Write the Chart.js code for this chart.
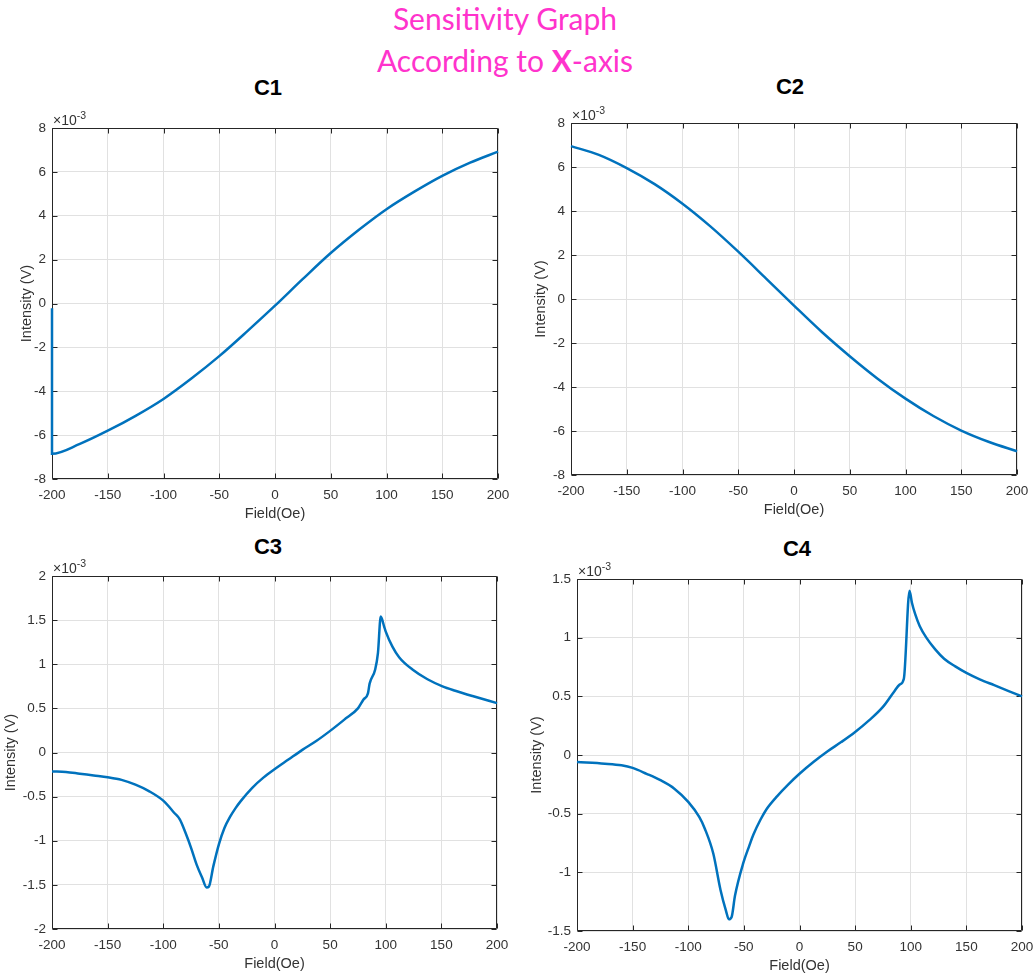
<!DOCTYPE html>
<html>
<head>
<meta charset="utf-8">
<title>Sensitivity Graph</title>
<script src="https://cdn.jsdelivr.net/npm/chart.js@4.4.0/dist/chart.umd.min.js"></script>
<style>
  html, body { margin: 0; padding: 0; background: #fff; }
  body { width: 1033px; height: 976px; position: relative; overflow: hidden; font-family: 'Liberation Sans', Arial, sans-serif; }
  canvas { position: absolute; }
  .suptitle { position: absolute; left: 255px; top: -3px; width: 500px; text-align: center;
    font-family: Lato, 'Open Sans', sans-serif; font-size: 30px; line-height: 42px; color: #ff33cc; }
  .subtitle { position: absolute; width: 100px; margin-left: -50px; text-align: center;
    font-weight: bold; font-size: 22px; line-height: 22px; color: #000; }
</style>
</head>
<body>
<div class="suptitle">Sensitivity Graph<br>According to <b>X</b>-axis</div>
<div class="subtitle" style="left:268px;top:77px">C1</div>
<div class="subtitle" style="left:790px;top:76px">C2</div>
<div class="subtitle" style="left:268px;top:536px">C3</div>
<div class="subtitle" style="left:797px;top:538px">C4</div>

<canvas id="c1" width="518" height="431" style="left:0px;top:98px"></canvas>
<canvas id="c2" width="518" height="432" style="left:519px;top:93px"></canvas>
<canvas id="c3" width="517" height="433" style="left:0px;top:546px"></canvas>
<canvas id="c4" width="517" height="432" style="left:525px;top:549px"></canvas>

<script>
'use strict';

// Field (Oe) tick labels shared by every panel
const fieldTicks = [-200, -150, -100, -50, 0, 50, 100, 150, 200];

// Intensity tick labels, in units of 1e-3 V
const ticksC12 = [-8, -6, -4, -2, 0, 2, 4, 6, 8];
const ticksC3 = [-2, -1.5, -1, -0.5, 0, 0.5, 1, 1.5, 2];
const ticksC4 = [-1.5, -1, -0.5, 0, 0.5, 1, 1.5];

// C1 (intensity x 1e-3 V)
const fieldC1 = [-200, -200, -175, -150, -125, -100, -75, -50, -25, 0, 25, 50, 75, 100, 125, 150, 175, 200];
const intensityC1 = [-0.22, -6.85, -6.4, -5.8, -5.12, -4.35, -3.42, -2.4, -1.27, -0.1, 1.12, 2.3, 3.35, 4.3, 5.1, 5.82, 6.42, 6.92];

// C2
const fieldC2 = [-200, -175, -150, -125, -100, -75, -50, -25, 0, 25, 50, 75, 100, 125, 150, 175, 200];
const intensityC2 = [6.95, 6.55, 5.95, 5.22, 4.33, 3.3, 2.15, 0.93, -0.3, -1.5, -2.6, -3.62, -4.53, -5.32, -5.98, -6.5, -6.92];

// C3
const fieldC3 = [-200, -187.5, -175, -162.5, -150, -137.5, -125, -112.5, -100, -90, -85, -80, -75, -70, -65, -61, -59, -55, -50, -45, -40, -35, -30, -20, -10,
  0, 12.5, 25, 37.5, 50, 62.5, 75, 80, 84, 85.5, 90.5, 93, 95.5, 98.5, 100, 106, 112, 124, 137.5, 151, 162.5, 178, 200];
const intensityC3 = [-0.215, -0.22, -0.24, -0.26, -0.28, -0.31, -0.365, -0.44, -0.546, -0.685, -0.76, -0.91, -1.08, -1.27, -1.42, -1.53, -1.52, -1.29, -1.04, -0.855, -0.73, -0.63, -0.545, -0.4, -0.285,
  -0.19, -0.08, 0.03, 0.13, 0.245, 0.37, 0.5, 0.6, 0.67, 0.78, 0.94, 1.13, 1.54, 1.43, 1.37, 1.2, 1.08, 0.94, 0.83, 0.75, 0.7, 0.64, 0.56];

// C4
const fieldC4 = [-200, -175, -160, -150, -137.5, -125, -112.5, -100, -90, -85, -77.5, -71, -66, -63.5, -61, -58, -50.5, -45, -41.5, -35, -29.5, -20, -10,
  0, 12.5, 25, 37.5, 50, 62.5, 75, 85, 90, 93.8, 98.9, 101, 104, 108, 114, 122, 130, 140, 150, 162, 175, 188, 200];
const intensityC4 = [-0.06, -0.074, -0.088, -0.11, -0.16, -0.215, -0.287, -0.4, -0.53, -0.63, -0.84, -1.15, -1.33, -1.4, -1.38, -1.2, -0.92, -0.77, -0.68, -0.55, -0.46, -0.35, -0.25,
  -0.16, -0.06, 0.03, 0.11, 0.196, 0.295, 0.41, 0.54, 0.6, 0.65, 1.4, 1.3, 1.2, 1.1, 1.0, 0.9, 0.82, 0.755, 0.7, 0.645, 0.595, 0.545, 0.5];

const FONT = "'Liberation Sans', Arial, sans-serif";
const TEXT = '#333333';
const AXIS_W = 52;
const PAD_TOP = 30;
const PAD_RIGHT = 20;
const X_H = 50;

// MATLAB-like box with inward ticks and the x10^-3 exponent label
const matlabFrame = {
  id: 'matlabFrame',
  beforeDatasetsDraw(chart) {
    const { ctx, chartArea: a, scales: { x, y } } = chart;
    const L = Math.round(a.left) + 0.5, R = Math.round(a.right) - 0.5;
    const T = Math.round(a.top) + 0.5, B = Math.round(a.bottom) - 0.5;
    ctx.save();
    ctx.strokeStyle = '#262626';
    ctx.lineWidth = 1;
    ctx.beginPath();
    ctx.rect(L, T, R - L, B - T);
    x.ticks.forEach((t) => {
      const px = Math.round(x.getPixelForValue(t.value)) + 0.5;
      ctx.moveTo(px, B); ctx.lineTo(px, B - 5);
      ctx.moveTo(px, T); ctx.lineTo(px, T + 5);
    });
    y.ticks.forEach((t) => {
      const py = Math.round(y.getPixelForValue(t.value)) + 0.5;
      ctx.moveTo(L, py); ctx.lineTo(L + 5, py);
      ctx.moveTo(R, py); ctx.lineTo(R - 5, py);
    });
    ctx.stroke();
    ctx.restore();
  },
  afterDraw(chart) {
    const { ctx, chartArea: a } = chart;
    ctx.save();
    ctx.fillStyle = TEXT;
    ctx.textBaseline = 'alphabetic';
    ctx.font = '14px ' + FONT;
    ctx.fillText('\u00d710', a.left + 1, a.top - 3);
    const w = ctx.measureText('\u00d710').width;
    ctx.font = '10.5px ' + FONT;
    ctx.fillText('-3', a.left + 1 + w, a.top - 9);
    ctx.restore();
  },
};

function makePanel(id, field, intensity, yTicks, yTitleCenter) {
  new Chart(document.getElementById(id), {
    type: 'line',
    data: {
      datasets: [{
        data: field.map((f, i) => ({ x: f, y: intensity[i] })),
        borderColor: '#0072BD',
        borderWidth: 2.5,
        cubicInterpolationMode: 'monotone',
        pointRadius: 0,
        fill: false,
        clip: 3,
      }],
    },
    options: {
      responsive: false,
      animation: false,
      layout: { padding: { top: PAD_TOP, right: PAD_RIGHT, left: 0, bottom: 0 } },
      plugins: { legend: { display: false }, tooltip: { enabled: false } },
      scales: {
        x: {
          type: 'linear',
          min: fieldTicks[0],
          max: fieldTicks[fieldTicks.length - 1],
          afterBuildTicks: (s) => { s.ticks = fieldTicks.map((v) => ({ value: v })); },
          afterFit: (s) => { s.height = X_H; },
          grid: { color: '#e1e1e1', drawTicks: false },
          border: { display: false },
          ticks: { padding: 8, color: TEXT, font: { size: 13.5, family: FONT }, maxRotation: 0, autoSkip: false,
            callback: (v) => String(v) },
          title: { display: true, text: 'Field(Oe)', color: TEXT, font: { size: 14.5, family: FONT },
            padding: { top: 0, bottom: 6 } },
        },
        y: {
          type: 'linear',
          min: yTicks[0],
          max: yTicks[yTicks.length - 1],
          afterBuildTicks: (s) => { s.ticks = yTicks.map((v) => ({ value: v })); },
          afterFit: (s) => { s.width = AXIS_W; },
          grid: { color: '#e1e1e1', drawTicks: false },
          border: { display: false },
          ticks: { padding: 6, color: TEXT, font: { size: 13.5, family: FONT }, autoSkip: false,
            callback: (v) => String(Number(v.toFixed(2))) },
          title: { display: true, text: 'Intensity (V)', color: TEXT, font: { size: 14.5, family: FONT },
            padding: { top: yTitleCenter - 8.7, bottom: 0 } },
        },
      },
    },
    plugins: [matlabFrame],
  });
}

makePanel('c1', fieldC1, intensityC1, ticksC12, 27);
makePanel('c2', fieldC2, intensityC2, ticksC12, 22);
makePanel('c3', fieldC3, intensityC3, ticksC3, 11);
makePanel('c4', fieldC4, intensityC4, ticksC4, 12);
</script>
</body>
</html>
